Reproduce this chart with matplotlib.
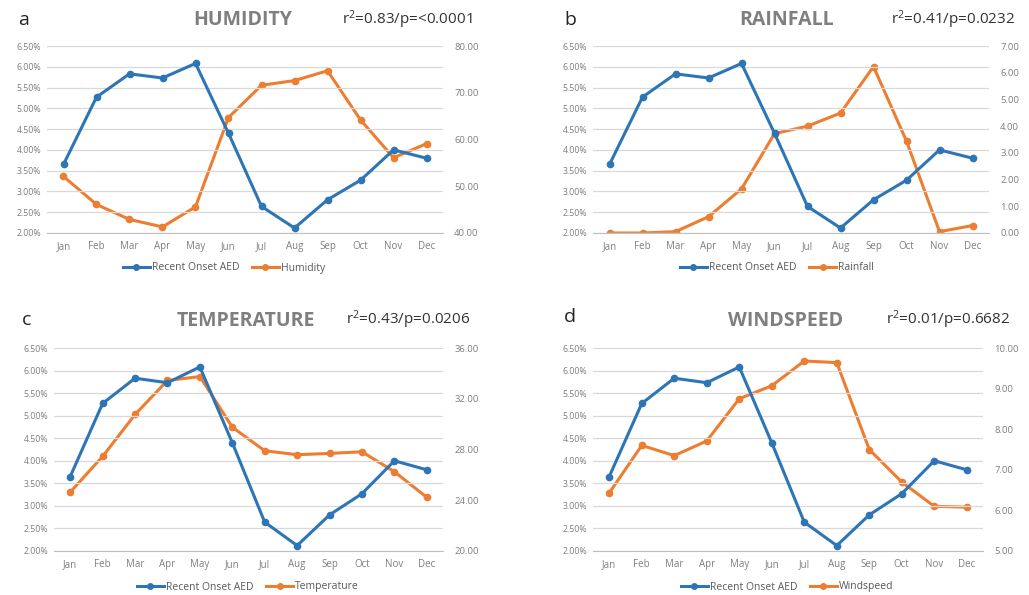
import matplotlib
matplotlib.use("Agg")
import matplotlib.pyplot as plt
from matplotlib.ticker import FuncFormatter, FixedLocator
from matplotlib.lines import Line2D

plt.rcParams['font.family'] = ['Open Sans', 'DejaVu Sans']
plt.rcParams['mathtext.fontset'] = 'custom'
plt.rcParams['mathtext.rm'] = 'Open Sans'
plt.rcParams['mathtext.it'] = 'Open Sans:italic'

months = ["Jan", "Feb", "Mar", "Apr", "May", "Jun", "Jul", "Aug", "Sep", "Oct", "Nov", "Dec"]
aed = [3.65, 5.27, 5.83, 5.73, 6.08, 4.40, 2.64, 2.12, 2.80, 3.27, 4.00, 3.80]
humidity = [52.1, 46.1, 42.9, 41.3, 45.6, 64.7, 71.6, 72.6, 74.7, 64.2, 56.1, 59.1]
rainfall = [0.00, 0.00, 0.05, 0.61, 1.65, 3.72, 4.00, 4.49, 6.23, 3.44, 0.05, 0.28]
temperature = [24.64, 27.45, 30.76, 33.44, 33.75, 29.76, 27.90, 27.59, 27.69, 27.82, 26.25, 24.23]
windspeed = [6.43, 7.60, 7.35, 7.71, 8.75, 9.07, 9.68, 9.64, 7.50, 6.70, 6.10, 6.08]

left_ticks = [2.0, 2.5, 3.0, 3.5, 4.0, 4.5, 5.0, 5.5, 6.0, 6.5]

panels = [
    dict(letter="a", title="HUMIDITY", name="Humidity", data=humidity,
         rticks=[40, 50, 60, 70, 80], stat=r"r$^2$=0.83/p=<$\mathit{0.0001}$",
         rect=[47, 46, 443, 233], pos=(24, 20), tpos=(243, 20), spos=(472, 20), lpos=(224, 268)),
    dict(letter="b", title="RAINFALL", name="Rainfall", data=rainfall,
         rticks=[0, 1, 2, 3, 4, 5, 6, 7], stat=r"r$^2$=0.41/p=0.0232",
         rect=[593, 46, 989, 233], pos=(570, 20), tpos=(787, 20), spos=(1015, 20), lpos=(777, 268)),
    dict(letter="c", title="TEMPERATURE", name="Temperature", data=temperature,
         rticks=[20, 24, 28, 32, 36], stat=r"r$^2$=0.43/p=0.0206",
         rect=[54, 348, 443, 551], pos=(27, 320), tpos=(246, 321), spos=(470, 320), lpos=(248, 587)),
    dict(letter="d", title="WINDSPEED", name="Windspeed", data=windspeed,
         rticks=[5, 6, 7, 8, 9, 10], stat=r"r$^2$=0.01/p=0.6682",
         rect=[593, 348, 983, 551], pos=(570, 317), tpos=(786, 321), spos=(1010, 320), lpos=(787, 587)),
]

W, H = 1029, 595
fig = plt.figure(figsize=(W / 100, H / 100), dpi=100)

blue = "#2E75B6"
orange = "#ED7D31"
grid = "#D9D9D9"
tcol = "#7F7F7F"

x = list(range(len(months)))
for p in panels:
    l, t, r, b = p["rect"]
    ax = fig.add_axes([l / W, 1 - b / H, (r - l) / W, (b - t) / H])
    ax2 = ax.twinx()
    ax.set_xlim(-0.5, 11.5)
    ax.set_ylim(2.0, 6.5)
    ax.yaxis.set_major_locator(FixedLocator(left_ticks))
    ax.yaxis.set_major_formatter(FuncFormatter(lambda v, _: f"{v:.2f}%"))
    ax.set_xticks(x)
    ax.set_xticklabels(months)
    ax.grid(axis='y', color=grid, linewidth=0.9)
    ax.set_axisbelow(True)
    for s in ax.spines.values():
        s.set_visible(False)
    for s in ax2.spines.values():
        s.set_visible(False)
    ax.spines['bottom'].set_visible(True)
    ax.spines['bottom'].set_color("#BFBFBF")
    ax.tick_params(axis='x', length=0, labelsize=7, labelcolor=tcol, pad=6)
    ax.tick_params(axis='y', length=0, labelsize=6.3, labelcolor=tcol, pad=4)
    rt = p["rticks"]
    ax2.set_ylim(rt[0], rt[-1])
    ax2.yaxis.set_major_locator(FixedLocator(rt))
    ax2.yaxis.set_major_formatter(FuncFormatter(lambda v, _: f"{v:.2f}"))
    ax2.tick_params(axis='y', length=0, labelsize=6.8, labelcolor=tcol, pad=8)

    ax.plot(x, aed, color=blue, lw=2.2, marker='o', ms=4.5, zorder=3)
    ax2.plot(x, p["data"], color=orange, lw=2.2, marker='o', ms=4.5, zorder=3)
    ax.set_zorder(ax2.get_zorder() + 1)
    ax.patch.set_visible(False)
    ax.lines[0].set_zorder(5)

    fig.text(p["pos"][0] / W, 1 - p["pos"][1] / H, p["letter"], fontsize=14,
             color="#222222", ha='center', va='center')
    fig.text(p["tpos"][0] / W, 1 - p["tpos"][1] / H, p["title"], fontsize=14,
             fontweight='bold', color="#7F7F7F", ha='center', va='center')
    fig.text(p["spos"][0] / W, 1 - p["spos"][1] / H, p["stat"], fontsize=11,
             color="#333333", ha='right', va='center')

    handles = [Line2D([0], [0], color=blue, lw=2.2, marker='o', ms=4),
               Line2D([0], [0], color=orange, lw=2.2, marker='o', ms=4)]
    fig.legend(handles, ["Recent Onset AED", p["name"]], loc='center',
               bbox_to_anchor=(p["lpos"][0] / W, 1 - p["lpos"][1] / H),
               ncol=2, frameon=False, fontsize=7.5, labelcolor="#595959",
               handlelength=2.6, handletextpad=0.2, columnspacing=1.2)

fig.savefig("out.png", dpi=100)
